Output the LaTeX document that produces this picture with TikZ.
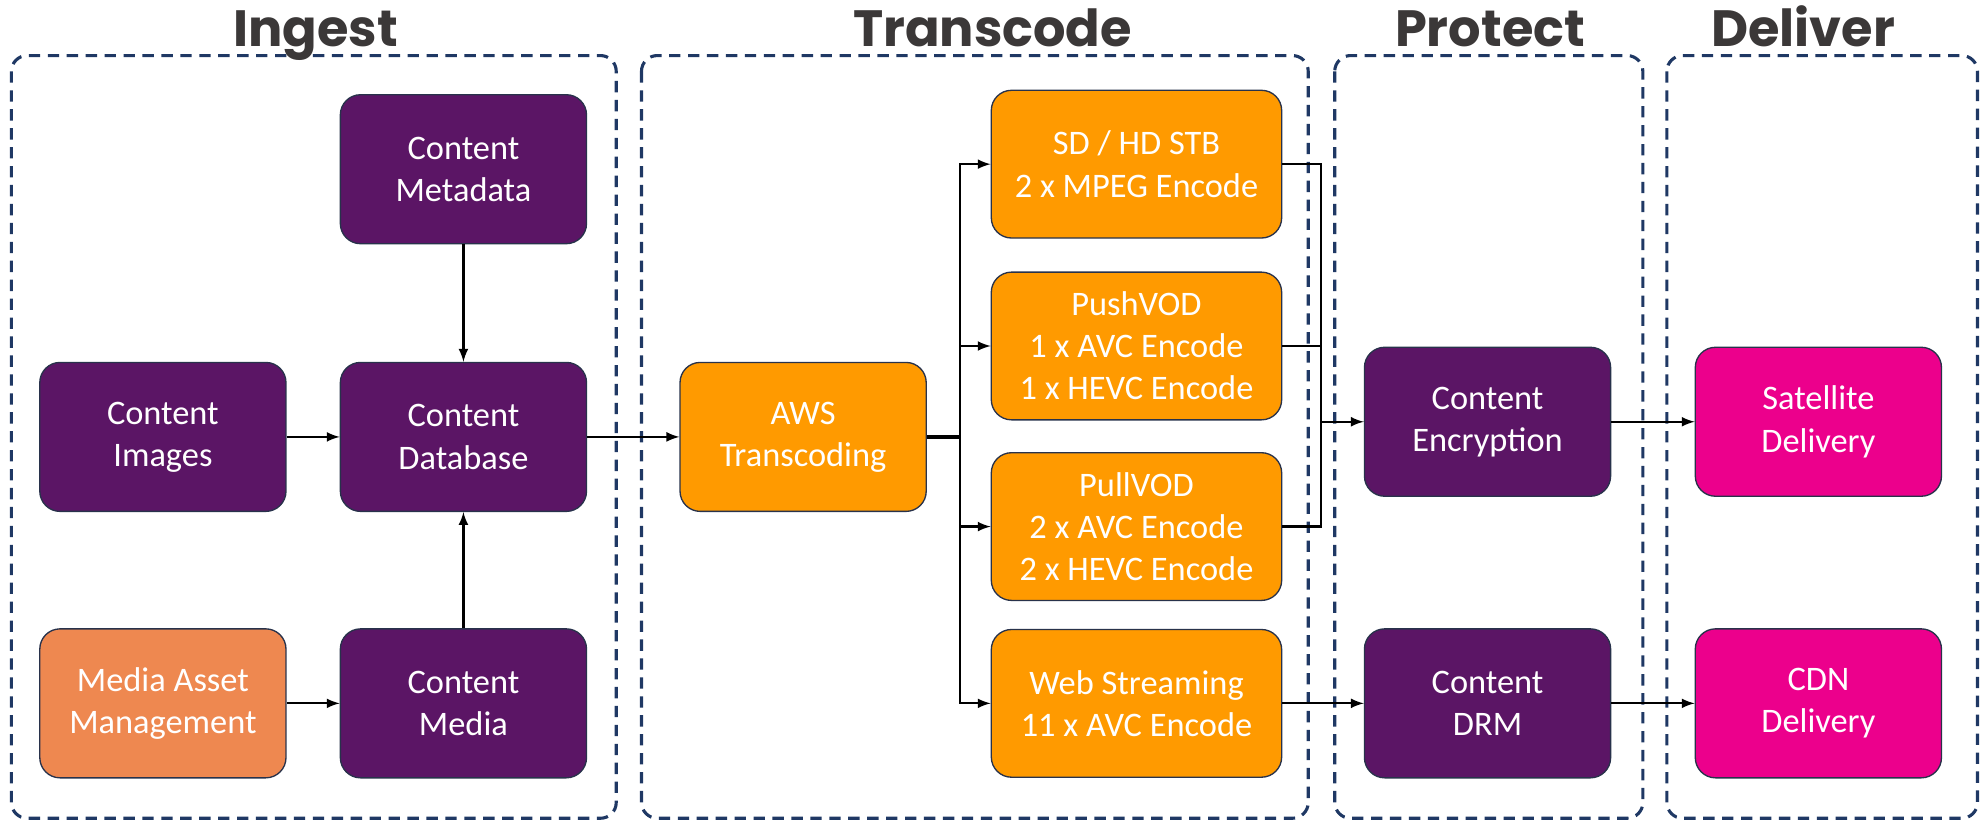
\documentclass[tikz,border=0pt]{standalone}
\usepackage{fontspec}
\setmainfont{Carlito}
\newfontfamily\headfont{Poppins}
\usetikzlibrary{positioning}
\usetikzlibrary{calc}
\definecolor{plum}{RGB}{91,21,101}
\definecolor{amber}{RGB}{255,154,0}
\definecolor{coral}{RGB}{238,136,80}
\definecolor{rosepink}{RGB}{236,0,140}
\definecolor{stageline}{RGB}{31,56,100}
\definecolor{boxline}{RGB}{40,50,75}
\definecolor{headink}{RGB}{59,56,56}

\begin{document}
\begin{tikzpicture}[x = 0.02cm, y = -0.02cm, >=latex, line width = 1pt,
  proc/.style = {draw = boxline, line width = 0.6pt, rounded corners = 0.32cm,
                 text = white, align = center, minimum width = 3.9cm,
                 minimum height = 2.36cm, font = \fontsize{15.5}{19}\selectfont},
  encbox/.style = {proc, fill = amber, minimum width = 4.6cm, minimum height = 2.34cm},
  stagebox/.style = {draw = stageline, dash pattern = on 0.18cm off 0.12cm,
                     line width = 1.4pt, rounded corners = 0.25cm},
  heading/.style = {anchor = base, text = headink,
                    font = \headfont\bfseries\fontsize{23}{28}\selectfont}]
\useasboundingbox (0,0) rectangle (1568,651);

\draw[stagebox] (9,44)    rectangle (488,648);
\draw[stagebox] (508,44)  rectangle (1036,648);
\draw[stagebox] (1057,44) rectangle (1301,648);
\draw[stagebox] (1320,44) rectangle (1566,648);

\node[heading] (ingest)    at (250,37)  {Ingest};
\node[heading] (transcode) at (786,37)  {Transcode};
\node[heading] (protect)   at (1180,37) {Protect};
\node[heading] (deliver)   at (1428,37) {Deliver};

\node[proc, fill = plum]  (meta)   at (367,134) {Content\\Metadata};
\node[proc, fill = plum]  (images) at (129,346) {Content\\Images};
\node[proc, fill = plum]  (db)     at (367,346) {Content\\Database};
\node[proc, fill = coral] (mam)    at (129,557) {Media Asset\\Management};
\node[proc, fill = plum]  (media)  at (367,557) {Content\\Media};

\node[proc, fill = amber] (aws)  at (636,346) {AWS\\Transcoding};
\node[encbox]             (stb)  at (900,130) {SD / HD STB\\2 x MPEG Encode};
\node[encbox]             (push) at (900,274) {PushVOD\\1 x AVC Encode\\1 x HEVC Encode};
\node[encbox]             (pull) at (900,417) {PullVOD\\2 x AVC Encode\\2 x HEVC Encode};
\node[encbox]             (web)  at (900,557) {Web Streaming\\11 x AVC Encode};

\node[proc, fill = plum]     (enc) at (1178,334) {Content\\Encryption};
\node[proc, fill = plum]     (drm) at (1178,557) {Content\\DRM};
\node[proc, fill = rosepink] (sat) at (1440,334) {Satellite\\Delivery};
\node[proc, fill = rosepink] (cdn) at (1440,557) {CDN\\Delivery};

\coordinate (split) at (760,346);
\coordinate (merge) at (1046,334);

\path[->] (meta)   edge (db)
          (images) edge (db)
          (media)  edge (db)
          (mam)    edge (media)
          (db)     edge (aws);

\draw[line width = 1.6pt] (aws) -- (split);
\draw[->] (split) |- (stb);
\draw[->] (split) |- (push);
\draw[->] (split) |- (pull);
\draw[->] (split) |- (web);

\draw (stb)  -| (merge);
\draw (push) -| (merge);
\draw (pull) -| (merge);
\draw[->] (merge) -- (enc);

\path[->] (web) edge (drm)
          (enc) edge (sat)
          (drm) edge (cdn);
\end{tikzpicture}
\end{document}
